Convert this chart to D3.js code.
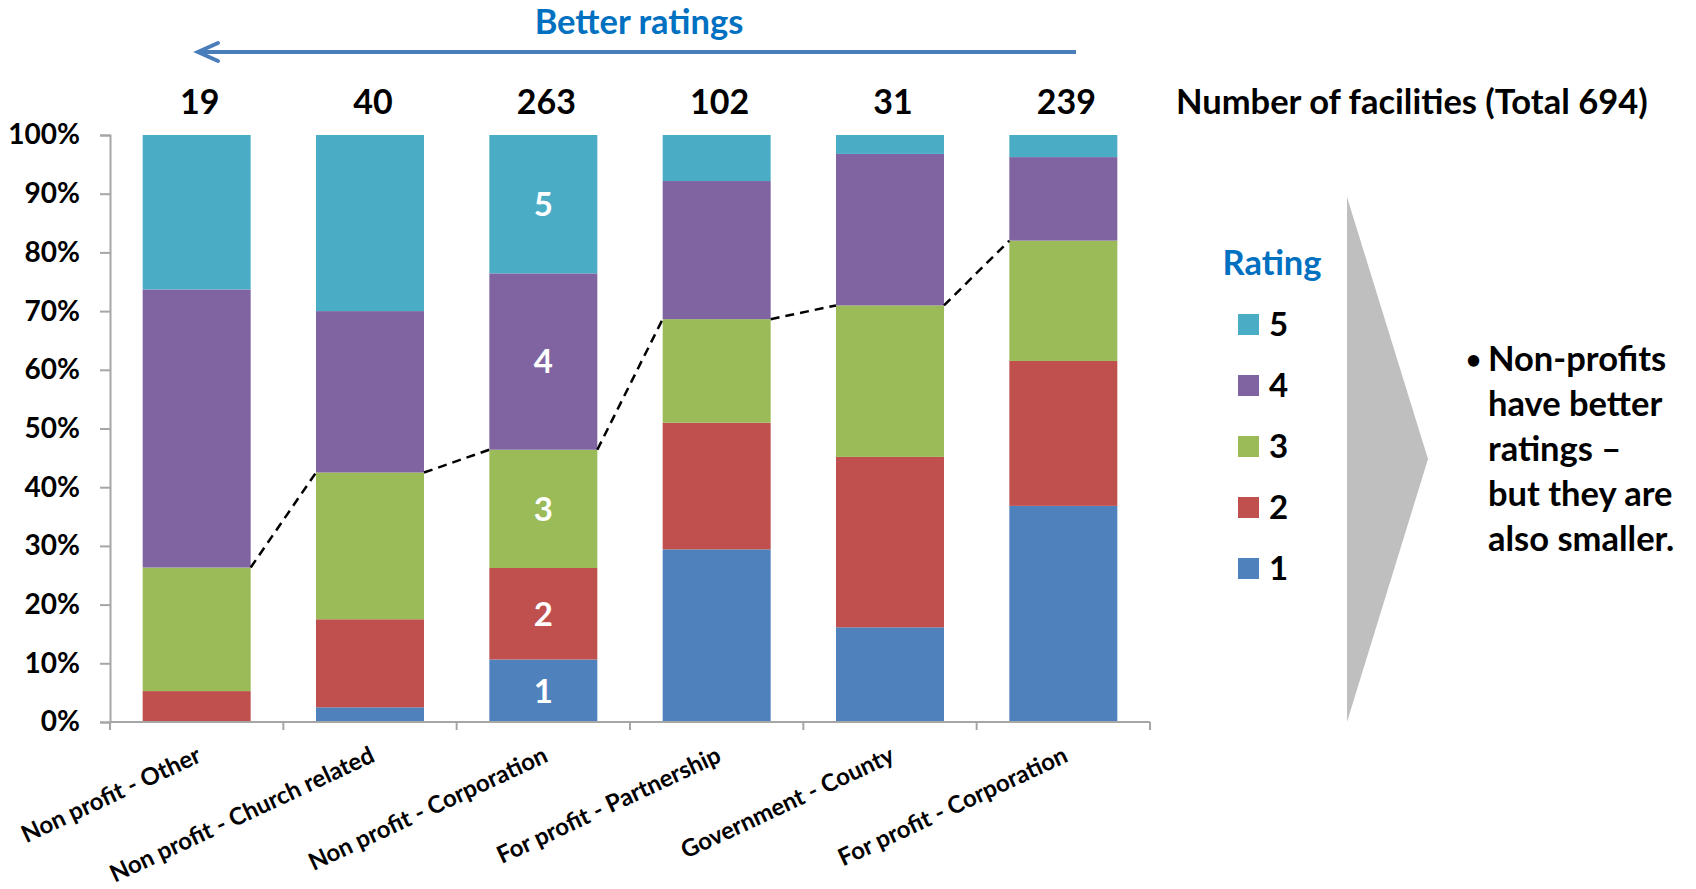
<!DOCTYPE html>
<html>
<head>
<meta charset="utf-8">
<script src="https://cdnjs.cloudflare.com/ajax/libs/d3/7.8.5/d3.min.js"></script>
<style>
  body { margin: 0; background: #fff; }
  svg text { font-family: Lato, "Open Sans", sans-serif; font-weight: bold; }
</style>
</head>
<body>
<div id="chart"></div>
<script>
  // categories, left to right
  var categories = ["Non profit - Other", "Non profit - Church related", "Non profit - Corporation",
                    "For profit - Partnership", "Government - County", "For profit - Corporation"];
  var facilities = [19, 40, 263, 102, 31, 239];
  var totalFacilities = 694;
  var ratings = ["1", "2", "3", "4", "5"];
  // number of facilities with each rating
  var rating1 = [0, 1, 28, 30, 5, 88];
  var rating2 = [1, 6, 41, 22, 9, 59];
  var rating3 = [4, 10, 53, 18, 8, 49];
  var rating4 = [9, 11, 79, 24, 8, 34];
  var rating5 = [5, 12, 62, 8, 1, 9];
  var yTicks = [0, 0.1, 0.2, 0.3, 0.4, 0.5, 0.6, 0.7, 0.8, 0.9, 1];
  var bulletLines = ["Non-profits", "have better", "ratings \u2013", "but they are", "also smaller."];

  var colors = {"1": "#4f81bd", "2": "#c0504d", "3": "#9bbb59", "4": "#8064a2", "5": "#4bacc6"};

  var width = 1696, height = 889;
  var plotLeft = 110, plotRight = 1150, plotTop = 135, plotBottom = 722;

  var svg = d3.select("#chart").append("svg")
      .attr("width", width)
      .attr("height", height);

  // rows for the stack
  var rows = categories.map(function(c, i) {
    return {cat: c, "1": rating1[i], "2": rating2[i], "3": rating3[i], "4": rating4[i], "5": rating5[i]};
  });
  var series = d3.stack().keys(ratings).offset(d3.stackOffsetExpand)(rows);

  var x = d3.scaleBand()
      .domain(categories)
      .range([plotLeft, plotRight])
      .paddingInner(0.377)
      .paddingOuter(0.1885);
  var y = d3.scaleLinear()
      .domain([0, 1])
      .range([plotBottom, plotTop]);
  var bw = x.bandwidth();

  // bars
  svg.append("g").selectAll("g")
    .data(series)
    .enter().append("g")
      .attr("fill", function(d) { return colors[d.key]; })
    .selectAll("rect")
    .data(function(d) { return d; })
    .enter().append("rect")
      .attr("x", function(d) { return x(d.data.cat); })
      .attr("y", function(d) { return y(d[1]); })
      .attr("width", bw)
      .attr("height", function(d) { return y(d[0]) - y(d[1]); });

  // series line on the top of rating 3
  var s3 = series[2];
  var segs = d3.range(categories.length - 1).map(function(i) {
    return [[x(categories[i]) + bw, y(s3[i][1])], [x(categories[i + 1]), y(s3[i + 1][1])]];
  });
  svg.append("g").selectAll("path")
    .data(segs)
    .enter().append("path")
      .attr("d", d3.line())
      .attr("stroke", "#000")
      .attr("stroke-width", 2.5)
      .attr("stroke-dasharray", "9,6")
      .attr("fill", "none");

  // labels inside the middle bar
  var mid = categories[2];
  svg.append("g").selectAll("text")
    .data(series)
    .enter().append("text")
      .attr("x", x(mid) + bw / 2)
      .attr("y", function(d) { var p = d[2]; return y((p[0] + p[1]) / 2); })
      .attr("dy", "0.36em")
      .attr("text-anchor", "middle")
      .attr("fill", "#fff")
      .style("font-size", "33px")
      .text(function(d) { return d.key; });

  // y axis
  var yAxis = svg.append("g")
      .attr("transform", "translate(" + plotLeft + ",0)")
      .call(d3.axisLeft(y).tickValues(yTicks).tickFormat(d3.format(".0%")).tickSize(10).tickPadding(20));
  yAxis.select(".domain").attr("stroke", "#a6a6a6").attr("stroke-width", 2);
  yAxis.selectAll(".tick line").attr("stroke", "#a6a6a6").attr("stroke-width", 2);
  yAxis.selectAll(".tick text")
      .attr("fill", "#000")
      .style("font-size", "28px")
      .style("font-family", "Lato, sans-serif");

  // x axis: line plus ticks at category boundaries
  var xg = svg.append("g");
  xg.append("line")
      .attr("x1", plotLeft).attr("x2", plotRight)
      .attr("y1", plotBottom).attr("y2", plotBottom)
      .attr("stroke", "#a6a6a6").attr("stroke-width", 2);
  var bounds = categories.map(function(c) { return x(c) - x.step() * 0.1885; }).concat([plotRight]);
  xg.selectAll(".xt")
    .data(bounds)
    .enter().append("line")
      .attr("x1", function(d) { return d; }).attr("x2", function(d) { return d; })
      .attr("y1", plotBottom).attr("y2", plotBottom + 8)
      .attr("stroke", "#a6a6a6").attr("stroke-width", 2);
  xg.selectAll("text")
    .data(categories)
    .enter().append("text")
      .attr("transform", function(d) {
        return "translate(" + (x(d) + bw / 2 + 6) + "," + 761 + ") rotate(-25)";
      })
      .attr("text-anchor", "end")
      .style("font-size", "24px")
      .text(function(d) { return d; });

  // facility counts above the bars
  svg.append("g").selectAll("text")
    .data(facilities)
    .enter().append("text")
      .attr("x", function(d, i) { return x(categories[i]) + bw / 2 + 3; })
      .attr("y", 114)
      .attr("text-anchor", "middle")
      .style("font-size", "34px")
      .text(function(d) { return d; });
  svg.append("text")
      .attr("x", 1176)
      .attr("y", 114)
      .style("font-size", "34.5px")
      .text("Number of facilities (Total " + totalFacilities + ")");

  // "Better ratings" arrow
  svg.append("text")
      .attr("x", 639)
      .attr("y", 34)
      .attr("text-anchor", "middle")
      .attr("fill", "#0070c0")
      .style("font-size", "34.5px")
      .text("Better ratings");
  svg.append("line")
      .attr("x1", 1076).attr("x2", 198)
      .attr("y1", 52).attr("y2", 52)
      .attr("stroke", "#4a7ebb").attr("stroke-width", 4);
  svg.append("path")
      .attr("d", "M218,43 L198,52 L218,61")
      .attr("stroke", "#4a7ebb").attr("stroke-width", 4)
      .attr("stroke-linecap", "round").attr("stroke-linejoin", "miter")
      .attr("fill", "none");

  // legend
  svg.append("text")
      .attr("x", 1272)
      .attr("y", 275)
      .attr("text-anchor", "middle")
      .attr("fill", "#0070c0")
      .style("font-size", "34.5px")
      .text("Rating");
  var leg = svg.append("g").selectAll("g")
    .data(ratings.slice().reverse())
    .enter().append("g")
      .attr("transform", function(d, i) { return "translate(1238," + (314 + i * 61) + ")"; });
  leg.append("rect")
      .attr("width", 21).attr("height", 21)
      .attr("fill", function(d) { return colors[d]; });
  leg.append("text")
      .attr("x", 31)
      .attr("y", 22)
      .style("font-size", "33px")
      .text(function(d) { return d; });

  // grey chevron
  svg.append("path")
      .attr("d", "M1347,197 L1428,459 L1347,722 Z")
      .attr("fill", "#bfbfbf");

  // bullet note
  svg.append("text")
      .attr("x", 1466)
      .attr("y", 369)
      .style("font-size", "26px")
      .text("\u2022");
  svg.append("g").selectAll("text")
    .data(bulletLines)
    .enter().append("text")
      .attr("x", 1488)
      .attr("y", function(d, i) { return 371 + i * 45; })
      .style("font-size", "34.5px")
      .text(function(d) { return d; });
</script>
</body>
</html>
